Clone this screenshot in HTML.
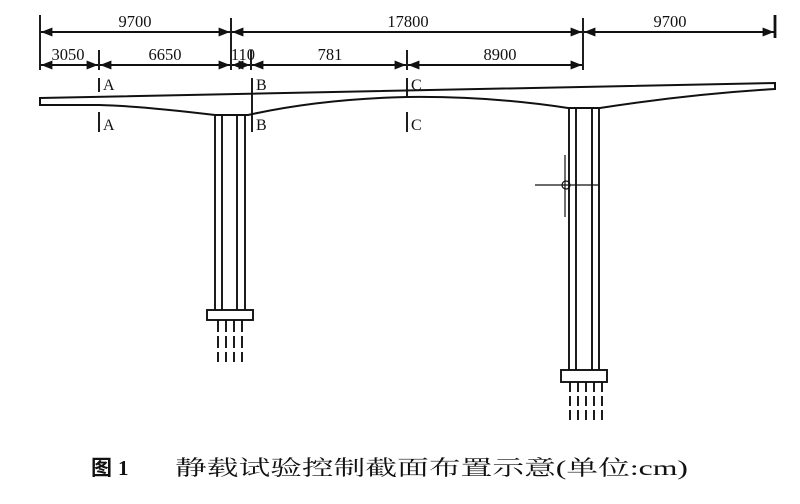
<!DOCTYPE html>
<html><head><meta charset="utf-8"><style>
html,body{margin:0;padding:0;background:#fff;width:800px;height:504px;overflow:hidden}
svg{display:block}
text{font-family:"Liberation Serif","Noto Serif CJK SC",serif;fill:#111}
</style></head><body>
<svg width="800" height="504" viewBox="0 0 800 504" xmlns="http://www.w3.org/2000/svg">
<defs>
<marker id="a" viewBox="0 0 10 10" refX="10" refY="5" markerWidth="6" markerHeight="6" orient="auto-start-reverse"><path d="M0,1 L10,5 L0,9z" fill="#111"/></marker>
</defs>
<g stroke="#111" stroke-width="1.9" fill="none">
<line x1="40" y1="15" x2="40" y2="70"/><line x1="231" y1="18" x2="231" y2="70"/><line x1="583" y1="18" x2="583" y2="70"/><line x1="775" y1="15" x2="775" y2="38" stroke-width="2.8"/>
<line x1="41" y1="32" x2="230" y2="32" marker-start="url(#a)" marker-end="url(#a)"/>
<line x1="232" y1="32" x2="582" y2="32" marker-start="url(#a)" marker-end="url(#a)"/>
<line x1="584" y1="32" x2="774" y2="32" marker-start="url(#a)" marker-end="url(#a)"/>
<line x1="99" y1="50" x2="99" y2="70"/><line x1="251" y1="50" x2="251" y2="70"/><line x1="407" y1="50" x2="407" y2="70"/>
<line x1="41" y1="65" x2="98" y2="65" marker-start="url(#a)" marker-end="url(#a)"/>
<line x1="100" y1="65" x2="230" y2="65" marker-start="url(#a)" marker-end="url(#a)"/>
<line x1="232" y1="65" x2="250" y2="65" marker-start="url(#a)" marker-end="url(#a)"/>
<line x1="252" y1="65" x2="406" y2="65" marker-start="url(#a)" marker-end="url(#a)"/>
<line x1="408" y1="65" x2="582" y2="65" marker-start="url(#a)" marker-end="url(#a)"/>
<path d="M40,98 L775,83 L775,89 Q690,94 600,108 L568,108 Q490,96 407,97 Q320,99 248,115 L215,115 Q140,106 99,105 L40,105 Z" stroke-width="2"/>
<line x1="99" y1="78" x2="99" y2="92"/><line x1="99" y1="112" x2="99" y2="132"/>
<line x1="252" y1="78" x2="252" y2="132"/>
<line x1="407" y1="78" x2="407" y2="97"/><line x1="407" y1="112" x2="407" y2="132"/>
<line x1="215" y1="115" x2="215" y2="310"/><line x1="222" y1="115" x2="222" y2="310"/><line x1="237" y1="115" x2="237" y2="310"/><line x1="245" y1="115" x2="245" y2="310"/>
<rect x="207" y="310" width="46" height="10"/>
<g stroke-dasharray="12,4"><line x1="218" y1="320" x2="218" y2="362"/><line x1="226" y1="320" x2="226" y2="362"/><line x1="234" y1="320" x2="234" y2="362"/><line x1="242" y1="320" x2="242" y2="362"/></g>
<line x1="569" y1="108" x2="569" y2="370"/><line x1="576" y1="108" x2="576" y2="370"/><line x1="592" y1="108" x2="592" y2="370"/><line x1="599" y1="108" x2="599" y2="370"/>
<rect x="561" y="370" width="46" height="12"/>
<g stroke-dasharray="10,4"><line x1="570" y1="382" x2="570" y2="420"/><line x1="578" y1="382" x2="578" y2="420"/><line x1="586" y1="382" x2="586" y2="420"/><line x1="594" y1="382" x2="594" y2="420"/><line x1="602" y1="382" x2="602" y2="420"/></g>
<line x1="535" y1="185" x2="598" y2="185" stroke-width="1.2"/><line x1="565" y1="155" x2="565" y2="217" stroke-width="1.2"/><circle cx="566" cy="185" r="4" stroke-width="1.2"/>
</g>
<g font-size="16.5">
<text x="135" y="27" text-anchor="middle">9700</text>
<text x="408" y="27" text-anchor="middle">17800</text>
<text x="670" y="27" text-anchor="middle">9700</text>
<text x="68" y="60" text-anchor="middle">3050</text>
<text x="165" y="60" text-anchor="middle">6650</text>
<text x="243" y="60" text-anchor="middle">110</text>
<text x="330" y="60" text-anchor="middle">781</text>
<text x="500" y="60" text-anchor="middle">8900</text>
</g>
<g font-size="16">
<text x="103" y="90">A</text><text x="103" y="130">A</text>
<text x="256" y="90">B</text><text x="256" y="130">B</text>
<text x="411" y="90">C</text><text x="411" y="130">C</text>
</g>
<text x="91" y="475" font-size="21" font-weight="bold" style="font-family:'Noto Sans CJK SC',sans-serif">图</text>
<text x="118" y="475" font-size="21" font-weight="bold">1</text>
<text x="175" y="475" font-size="21" textLength="513" lengthAdjust="spacingAndGlyphs" style="font-family:'Liberation Serif','Noto Serif CJK SC',serif">静载试验控制截面布置示意(单位:cm)</text>
</svg>
</body></html>
